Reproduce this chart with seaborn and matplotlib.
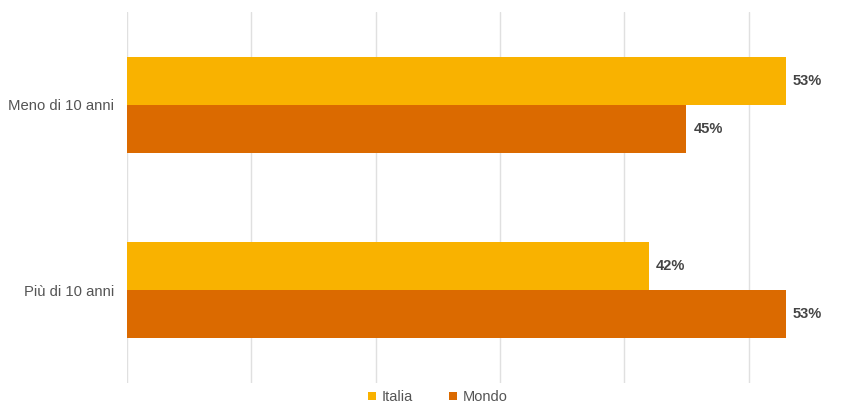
import matplotlib
matplotlib.use("Agg")
import matplotlib.pyplot as plt
import seaborn as sns
import pandas as pd
from matplotlib.lines import Line2D

categories = ["Meno di 10 anni", "Più di 10 anni"]
series = ["Italia", "Mondo"]
italia = [53, 42]
mondo = [45, 53]
colors = {"Italia": "#F9B200", "Mondo": "#DB6A00"}

df = pd.DataFrame({
    "categoria": categories * 2,
    "serie": ["Italia"] * len(categories) + ["Mondo"] * len(categories),
    "valore": italia + mondo,
})

sns.set_theme(style="white")
plt.rcParams["font.family"] = ["Liberation Sans", "DejaVu Sans"]

fig = plt.figure(figsize=(8.6, 4.03), dpi=100)
ax = fig.add_axes([127 / 860, 20 / 403, (848 - 127) / 860, 371 / 403])

sns.barplot(data=df, y="categoria", x="valore", hue="serie", orient="h",
            palette=colors, width=0.52, ax=ax, legend=False, saturation=1,
            linewidth=0, zorder=3)

ax.set_xlim(0, 58)
ax.set_ylim(1.5, -0.5)
ax.set_xticks([0, 10, 20, 30, 40, 50])
ax.set_xticklabels([])
ax.grid(axis="x", color="#E0E0E0", linewidth=1, zorder=0)
ax.grid(axis="y", visible=False)
for s in ax.spines.values():
    s.set_visible(False)
ax.set_xlabel("")
ax.set_ylabel("")
ax.tick_params(axis="y", length=0, pad=9.5, labelsize=10.7, labelcolor="#555555")
ax.tick_params(axis="x", length=0)

for cont in ax.containers:
    ax.bar_label(cont, labels=[f"{int(round(v))}%" for v in cont.datavalues],
                 padding=5, fontsize=10.5, fontweight="bold", color="#444444")

handles = [Line2D([], [], marker="s", linestyle="", markersize=5.5,
                  markerfacecolor=colors[s], markeredgewidth=0, label=s) for s in series]
fig.legend(handles=handles, loc="center", bbox_to_anchor=(436 / 860, 6 / 403),
           ncol=2, frameon=False, fontsize=10.5, labelcolor="#555555",
           handletextpad=0.2, columnspacing=2.2, handlelength=1.0)

fig.savefig("out.png", dpi=100)
